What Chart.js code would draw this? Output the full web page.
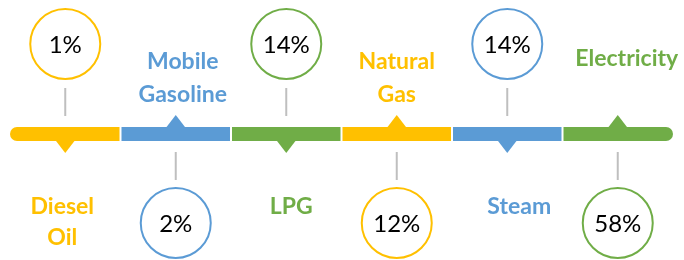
<!DOCTYPE html>
<html>
<head>
<meta charset="utf-8">
<script src="https://cdn.jsdelivr.net/npm/chart.js@4"></script>
<style>
  html, body { margin: 0; padding: 0; background: #fff; }
  #wrap { width: 684px; height: 260px; position: relative; }
</style>
</head>
<body>
<div id="wrap"><canvas id="timelineChart"></canvas></div>
<script>
// data
const categories = [['Diesel', 'Oil'], ['Mobile', 'Gasoline'], ['LPG'], ['Natural', 'Gas'], ['Steam'], ['Electricity']];
const shares = [1, 2, 14, 12, 14, 58]; // percent
const colors = ['#FFC000', '#5B9BD5', '#70AD47', '#FFC000', '#5B9BD5', '#70AD47'];

// layout (pixels)
const barTop = 127, barBottom = 141;
const circleTopY = 44, circleBottomY = 223, circleR = 35;
const labelShift = [-3, 7, 5, 0, 12, 9];

window.onload = function() {
    const ctx = document.getElementById('timelineChart').getContext('2d');

    const timeline = {
        id: 'timeline',
        beforeDatasetsDraw(chart) {
            const c = chart.ctx;
            const x = chart.scales.x;
            c.save();
            categories.forEach((cat, i) => {
                const x0 = x.getPixelForValue(i) + (i > 0 ? 1 : 0);
                const x1 = x.getPixelForValue(i + 1) - (i < categories.length - 1 ? 1 : 0);
                const mid = x.getPixelForValue(i + 0.5);
                const up = i % 2 === 1;
                c.fillStyle = colors[i];
                c.beginPath();
                const r = (barBottom - barTop) / 2;
                if (i === 0) {
                    c.moveTo(x1, barTop);
                    c.lineTo(x0 + r, barTop);
                    c.arc(x0 + r, barTop + r, r, -Math.PI / 2, Math.PI / 2, true);
                    c.lineTo(x1, barBottom);
                } else if (i === categories.length - 1) {
                    c.moveTo(x0, barTop);
                    c.lineTo(x1 - r, barTop);
                    c.arc(x1 - r, barTop + r, r, -Math.PI / 2, Math.PI / 2, false);
                    c.lineTo(x0, barBottom);
                } else {
                    c.rect(x0, barTop, x1 - x0, barBottom - barTop);
                }
                c.closePath();
                c.fill();

                // pointer triangle
                c.beginPath();
                if (up) {
                    c.moveTo(mid - 10, barTop + 1);
                    c.lineTo(mid, barTop - 12);
                    c.lineTo(mid + 10, barTop + 1);
                } else {
                    c.moveTo(mid - 10, barBottom - 1);
                    c.lineTo(mid, barBottom + 12);
                    c.lineTo(mid + 10, barBottom - 1);
                }
                c.closePath();
                c.fill();

                // connector
                c.strokeStyle = '#BFBFBF';
                c.lineWidth = 2;
                c.beginPath();
                if (up) {
                    c.moveTo(mid, 152); c.lineTo(mid, 180);
                } else {
                    c.moveTo(mid, 88); c.lineTo(mid, 116);
                }
                c.stroke();

                // category label
                c.fillStyle = colors[i];
                c.font = 'bold 23px Lato';
                c.textAlign = 'center';
                c.textBaseline = 'middle';
                const ys = up ? [62, 95] : [207, 238];
                let yStart = ys[0];
                if (up && cat.length === 1) yStart = 59;
                cat.forEach((t, k) => {
                    c.fillText(t, mid + labelShift[i], k === 0 ? yStart : ys[1]);
                });
            });
            c.restore();
        },
        afterDatasetsDraw(chart) {
            const c = chart.ctx;
            const meta = chart.getDatasetMeta(0);
            c.save();
            c.fillStyle = '#000';
            c.font = '24px Lato';
            c.textAlign = 'center';
            c.textBaseline = 'middle';
            meta.data.forEach((pt, i) => {
                c.fillText(shares[i] + '%', pt.x, pt.y + 1);
            });
            c.restore();
        }
    };

    new Chart(ctx, {
        type: 'bubble',
        data: {
            datasets: [{
                label: 'Share',
                data: shares.map((v, i) => ({
                    x: i + 0.5,
                    y: i % 2 === 0 ? circleTopY : circleBottomY,
                    r: circleR
                })),
                backgroundColor: '#ffffff',
                borderColor: colors,
                borderWidth: 2,
                hoverBorderWidth: 2,
                clip: false
            }]
        },
        options: {
            responsive: true,
            maintainAspectRatio: false,
            animation: false,
            layout: { autoPadding: false, padding: { left: 10, right: 11, top: 0, bottom: 0 } },
            scales: {
                x: { type: 'linear', min: 0, max: 6, display: false },
                y: { type: 'linear', min: 0, max: 260, reverse: true, display: false }
            },
            plugins: {
                legend: { display: false },
                tooltip: { enabled: false }
            }
        },
        plugins: [timeline]
    });
};
</script>
</body>
</html>
